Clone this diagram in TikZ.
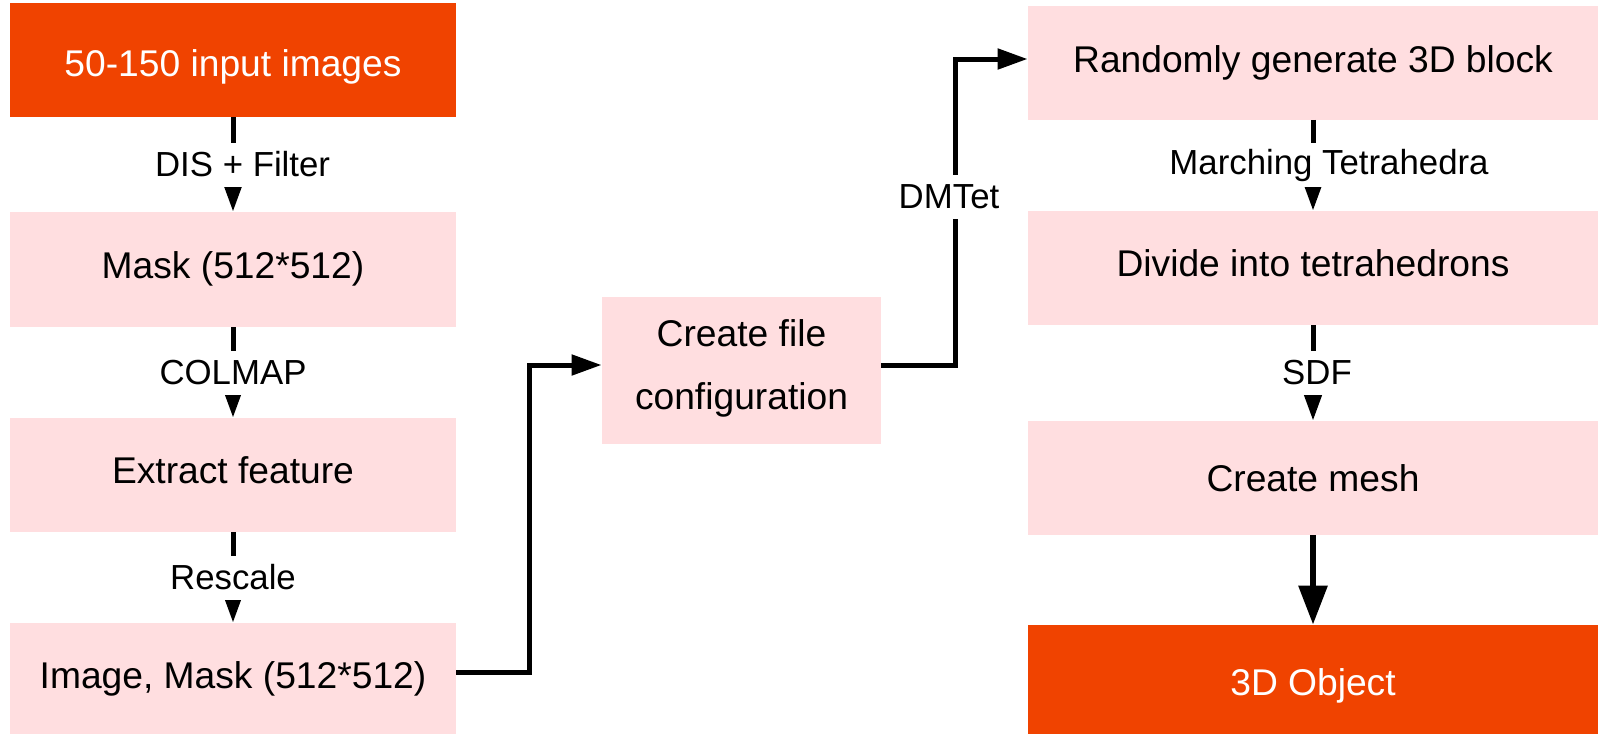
\documentclass[tikz,border=0pt]{standalone}
\usepackage{fontspec}
\setmainfont{Liberation Sans}
\usetikzlibrary{arrows.meta}
\definecolor{orng}{HTML}{F04300}
\definecolor{pnk}{HTML}{FFDEE0}
\tikzset{
 box/.style={rectangle, fill=pnk, inner sep=0pt, font=\fontsize{18.6}{31.5}\selectfont, text=black},
 hot/.style={rectangle, fill=orng, inner sep=0pt, font=\fontsize{18.6}{31.5}\selectfont, text=white},
 base/.style={text height=#1, text depth=0pt},
 lbl/.style={fill=white, inner xsep=1pt, inner ysep=0pt, minimum height=22pt, font=\fontsize{17.4}{20}\selectfont, text=black},
 flow/.style={line width=2.5pt, -{Triangle[length=15pt,width=10pt]}},
 bigflow/.style={line width=3pt, -{Triangle[length=19.5pt,width=14pt]}},
}
\begin{document}
\begin{tikzpicture}[x=0.5pt,y=-0.5pt]
\useasboundingbox (0,0) rectangle (1598,734);
% left column
\node[hot, base=16.7pt, minimum width=223pt, minimum height=57pt] (in) at (233,60) {50-150 input images};
\node[box, base=8.5pt, minimum width=223pt, minimum height=57.5pt] (mask) at (233,269.5) {Mask (512*512)};
\node[box, base=8pt, minimum width=223pt, minimum height=57pt] (feat) at (233,475) {Extract feature};
\node[box, base=9.5pt, minimum width=223pt, minimum height=55.5pt] (im) at (233,678.5) {Image, Mask (512*512)};
% middle
\node[box, text depth=5.5pt, minimum width=139.5pt, minimum height=73.5pt, align=center] (cfg) at (741.5,370.5) {Create file\\configuration};
% right column
\node[box, base=10pt, minimum width=285pt, minimum height=57pt] (blk) at (1313,62.5) {Randomly generate 3D block};
\node[box, base=8.7pt, minimum width=285pt, minimum height=57pt] (tet) at (1313,268) {Divide into tetrahedrons};
\node[box, base=13.5pt, minimum width=285pt, minimum height=57pt] (mesh) at (1313,478) {Create mesh};
\node[hot, base=15.5pt, minimum width=285pt, minimum height=54.5pt] (obj) at (1313,679.5) {3D Object};
% connectors
\draw[flow] (in) -- node[lbl, xshift=4.8pt] {DIS + Filter} (mask);
\draw[flow] (mask) -- node[lbl] {COLMAP} (feat);
\draw[flow] (feat) -- node[lbl] {Rescale} (im);
\coordinate (k1) at (529,672);
\draw[flow] ([yshift=3.25pt]im.east) -- (k1) |- ([yshift=2.75pt]cfg.west);
\coordinate (k2) at (955,365);
\draw[flow] ([yshift=2.75pt]cfg.east) -- (k2) |- node[lbl, pos=0.275, xshift=-3pt] {DMTet} ([yshift=1.75pt]blk.west);
\draw[flow] (blk) -- node[lbl, xshift=8pt] {Marching Tetrahedra} (tet);
\draw[flow] (tet) -- node[lbl, xshift=2pt] {SDF} (mesh);
\draw[bigflow] (mesh) -- (obj);
\end{tikzpicture}
\end{document}
